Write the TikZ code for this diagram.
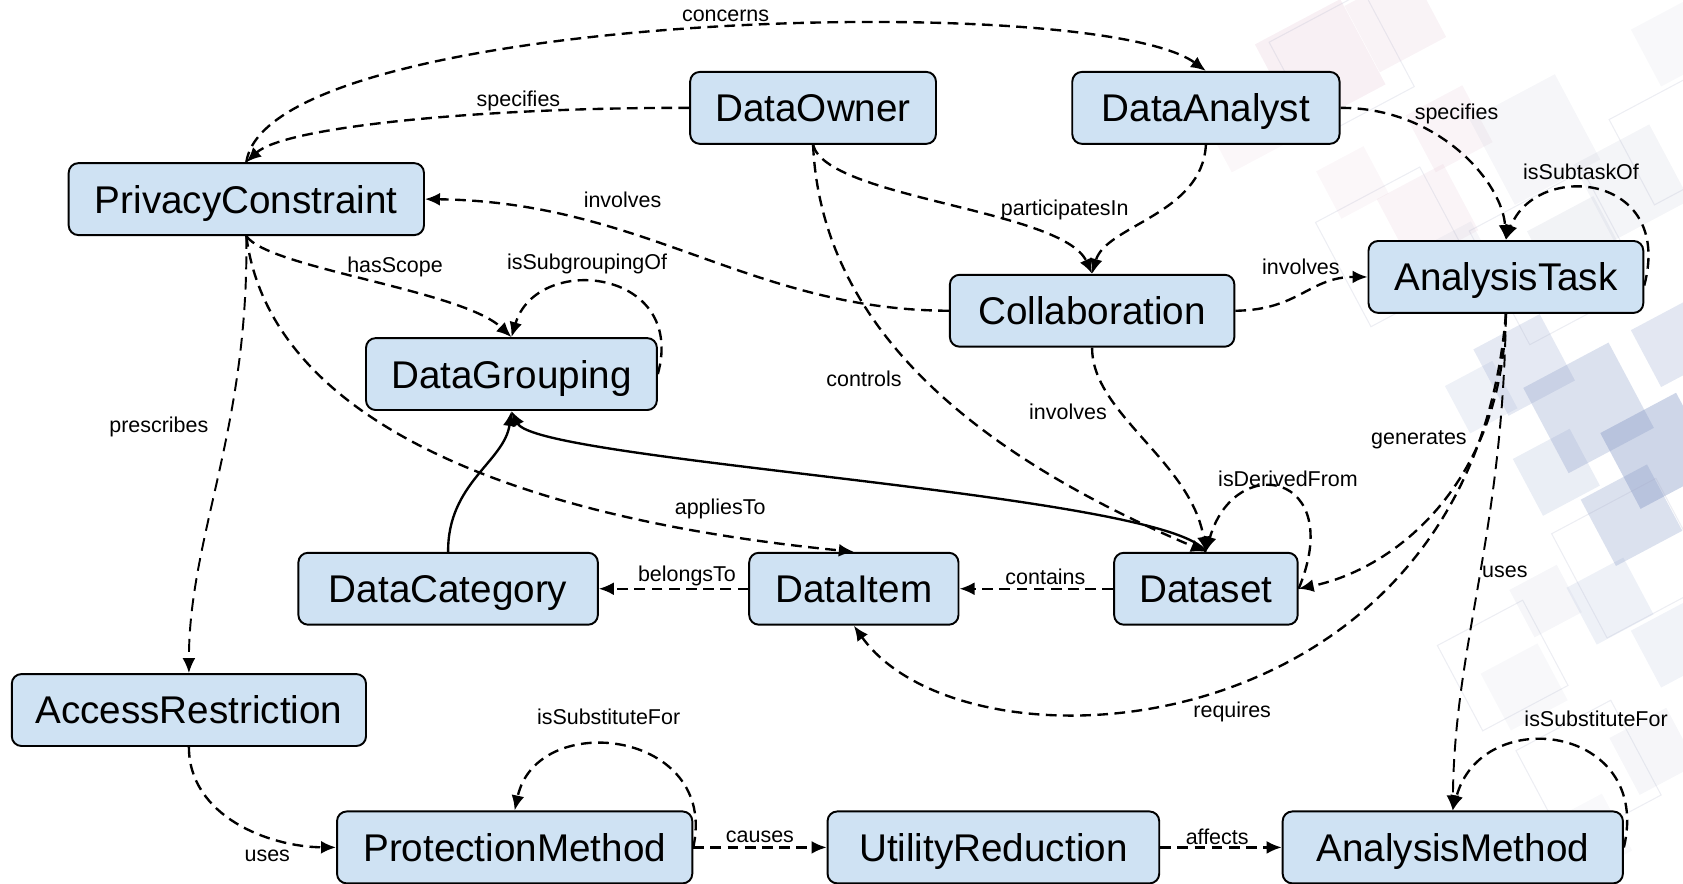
\documentclass[tikz,border=0pt]{standalone}
\usepackage{fontspec}
\setmainfont{Liberation Sans}
\usepackage{tikz}
\usetikzlibrary{arrows.meta}

\definecolor{boxblue}{HTML}{CFE2F3}
\definecolor{bgpink}{HTML}{C98AA8}
\definecolor{bgblue}{HTML}{7F93C2}
\definecolor{bggrey}{HTML}{A3A9C2}

\tikzset{
  box/.style={draw,line width=1.8pt,rounded corners=9pt,fill=boxblue,minimum height=67pt,
    inner sep=0pt,text height=26pt,text depth=0pt,font=\fontsize{36}{40}\selectfont},
  rel/.style={line width=2.2pt,dash pattern=on 10pt off 6pt,-{Latex[length=14pt,width=12pt]}},
  rellong/.style={rel,line width=1.8pt,dash pattern=on 12pt off 7pt},
  solidrel/.style={line width=2.2pt,-{Latex[length=14pt,width=12pt]}},
  lbl/.style={font=\fontsize{20}{22}\selectfont,inner sep=1pt}
}

\begin{document}
\begin{tikzpicture}[x=1pt,y=-1pt]
\useasboundingbox (0,0) rectangle (1568,823);

% faint squares in the background
\foreach \x/\y/\s/\c/\o in {1230/60/90/bgpink/0.13,1300/20/70/bgpink/0.10,1160/120/60/bgpink/0.07,
  1350/120/60/bgpink/0.09,1260/170/50/bgpink/0.07,1330/200/70/bgpink/0.09,
  1430/130/90/bggrey/0.10,1520/170/80/bggrey/0.12,1470/230/70/bggrey/0.14,1360/240/50/bggrey/0.10,
  1420/340/70/bgblue/0.20,1480/380/90/bgblue/0.28,1545/420/80/bgblue/0.38,1520/480/70/bgblue/0.28,
  1450/440/60/bgblue/0.16,1380/370/50/bgblue/0.13,1560/320/60/bgblue/0.22,1500/560/60/bgblue/0.13,
  1560/600/60/bgblue/0.11,1440/560/50/bggrey/0.10,1420/640/60/bggrey/0.08,1540/700/60/bggrey/0.10,
  1480/780/60/bggrey/0.07,1560/40/60/bggrey/0.08} {
  \fill[\c,opacity=\o,rotate around={28:(\x,\y)}] (\x-\s/2,\y-\s/2) rectangle (\x+\s/2,\y+\s/2);
}
\foreach \x/\y/\s in {1300/230/110,1450/240/120,1520/520/110,1400/620/90,1250/60/100,1480/720/100,1560/130/90} {
  \draw[bggrey,opacity=0.2,line width=1pt,rotate around={28:(\x,\y)}] (\x-\s/2,\y-\s/2) rectangle (\x+\s/2,\y+\s/2);
}

% classes
\node[box,minimum width=331pt] (pc) at (229.5,185.5) {PrivacyConstraint};
\node[box,minimum width=229pt] (do) at (757.5,100.5) {DataOwner};
\node[box,minimum width=249pt] (da) at (1123.5,100.5) {DataAnalyst};
\node[box,minimum width=265pt] (coll) at (1017.5,289.5) {Collaboration};
\node[box,minimum width=256pt] (at) at (1403,258) {AnalysisTask};
\node[box,minimum width=271pt] (dg) at (476.5,348.5) {DataGrouping};
\node[box,minimum width=279pt] (dc) at (417.5,548.5) {DataCategory};
\node[box,minimum width=195pt] (di) at (795.5,548.5) {DataItem};
\node[box,minimum width=171pt] (ds) at (1123.5,548.5) {Dataset};
\node[box,minimum width=330pt] (ar) at (176,661.5) {AccessRestriction};
\node[box,minimum width=331pt] (pm) at (479.5,789.5) {ProtectionMethod};
\node[box,minimum width=309pt] (ur) at (925.5,789.5) {UtilityReduction};
\node[box,minimum width=317pt] (am) at (1353.5,789.5) {AnalysisMethod};

% relations
\draw[rel] (pc.north) .. controls (250,10) and (1020,-10) .. (da.north);
\draw[rel] (do.west) .. controls (450,100) and (265,118) .. (pc.north);
\draw[rel] (da.east) .. controls (1340,100) and (1400,170) .. (at.north);
\draw[rel] ([yshift=-8pt]at.east) .. controls (1560,160) and (1430,150) .. (at.north);
\draw[rel] (do.south) .. controls (770,185) and (990,195) .. (coll.north);
\draw[rel] (da.south) .. controls (1120,200) and (1030,210) .. (coll.north);
\draw[rel] (coll.west) .. controls (700,289) and (600,188) .. (pc.east);
\draw[rel] (coll.east) .. controls (1210,289) and (1220,258) .. (at.west);
\draw[rel] (coll.south) .. controls (1017,385) and (1110,430) .. (ds.north);
\draw[rel] (do.south) .. controls (765,300) and (900,420) .. (ds.north);
\draw[rel] (pc.south) .. controls (250,250) and (430,270) .. (dg.north);
\draw[rel] (dg.east) .. controls (640,250) and (500,235) .. (dg.north);
\draw[rellong] (pc.south) .. controls (232,400) and (176,500) .. (ar.north);
\draw[rel] (pc.south) .. controls (250,380) and (450,480) .. (di.north);
\draw[solidrel] (dc.north) .. controls (417,450) and (470,430) .. (dg.south);
\draw[solidrel] (ds.north) .. controls (1090,460) and (500,430) .. (dg.south);
\draw[rel] (ds.east) .. controls (1255,440) and (1150,420) .. (ds.north);
\draw[rel] (at.south) .. controls (1400,450) and (1300,530) .. (ds.east);
\draw[rel] (at.south) .. controls (1370,700) and (900,730) .. (di.south);
\draw[rellong] (at.south) .. controls (1400,500) and (1355,600) .. (am.north);
\draw[rel] (ds.west) -- (di.east);
\draw[rel] (di.west) -- (dc.east);
\draw[rel] (ar.south) .. controls (176,760) and (250,789) .. (pm.west);
\draw[rel] (pm.east) .. controls (670,680) and (500,660) .. (pm.north);
\draw[rel] (pm.east) -- (ur.west);
\draw[rel] (ur.east) -- (am.west);
\draw[rel] (am.east) .. controls (1540,675) and (1380,655) .. (am.north);

% labels
\node[lbl] (l-concerns) at (676,15) {concerns};
\node[lbl] (l-spec1) at (483,94) {specifies};
\node[lbl] (l-spec2) at (1357,106) {specifies};
\node[lbl] (l-subtask) at (1473,160) {isSubtaskOf};
\node[lbl] (l-partic) at (992,196) {participatesIn};
\node[lbl] (l-inv1) at (580,186) {involves};
\node[lbl] (l-inv2) at (1212,249) {involves};
\node[lbl] (l-inv3) at (995,384) {involves};
\node[lbl] (l-controls) at (805,353) {controls};
\node[lbl] (l-scope) at (368,249) {hasScope};
\node[lbl] (l-subgroup) at (547,246) {isSubgroupingOf};
\node[lbl] (l-prescr) at (148,398) {prescribes};
\node[lbl] (l-applies) at (671,474) {appliesTo};
\node[lbl] (l-derived) at (1200,446) {isDerivedFrom};
\node[lbl] (l-gen) at (1322,410) {generates};
\node[lbl] (l-req) at (1148,663) {requires};
\node[lbl] (l-uses1) at (1402,533) {uses};
\node[lbl] (l-contains) at (974,537) {contains};
\node[lbl] (l-belongs) at (640,537) {belongsTo};
\node[lbl] (l-uses2) at (249,797) {uses};
\node[lbl] (l-subst1) at (567,668) {isSubstituteFor};
\node[lbl] (l-causes) at (708,780) {causes};
\node[lbl] (l-affects) at (1134,780) {affects};
\node[lbl] (l-subst2) at (1487,670) {isSubstituteFor};
\end{tikzpicture}
\end{document}
